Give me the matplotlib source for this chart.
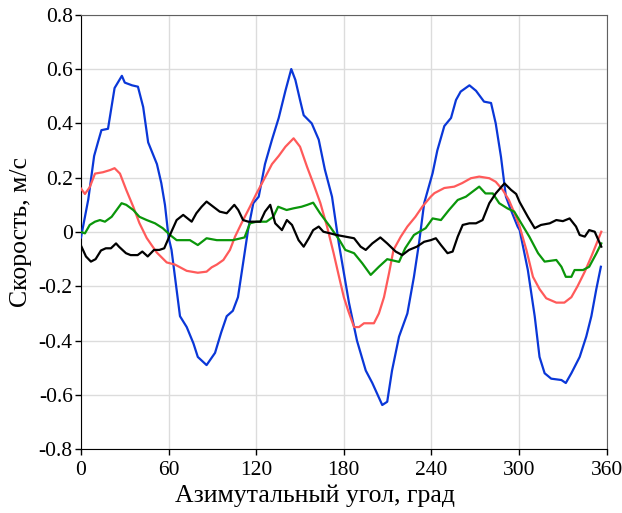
import matplotlib.pyplot as plt

plt.rcParams['font.family'] = ['Liberation Serif', 'DejaVu Serif']

# azimuth angle, deg / velocity, m/s
blue_x = [0, 5, 9, 11.6, 14, 18.5, 23, 28, 30, 35, 39, 42.6, 46, 52, 55, 57.5,
          60, 62, 67.8, 72.4, 77, 80, 86, 91.8, 96, 99.8, 104, 107.5, 111, 114.4,
          118, 121.7, 126, 130.8, 135.4, 140, 144, 146.8, 150, 152.5, 158, 162.8,
          167, 171.9, 176.5, 180, 183.5, 189, 195, 199.5, 206.3, 209.7, 213,
          217.8, 223.5, 228, 231.5, 235, 240.8, 244, 248.8, 253.4, 256.8, 260,
          266, 270.5, 276, 280.8, 284, 287.6, 291, 294.5, 299, 300.4, 306, 310.7,
          314, 317.5, 322, 329, 332, 335.8, 341.5, 346, 349.5, 352.9, 356]
blue_y = [-0.02, 0.12, 0.28, 0.33, 0.375, 0.38, 0.53, 0.575, 0.55, 0.54, 0.535,
          0.46, 0.33, 0.25, 0.18, 0.1, -0.02, -0.066, -0.31, -0.35, -0.41, -0.46,
          -0.49, -0.445, -0.37, -0.31, -0.29, -0.24, -0.115, 0.007, 0.106, 0.13,
          0.25, 0.34, 0.42, 0.52, 0.6, 0.56, 0.486, 0.43, 0.40, 0.34, 0.23, 0.13,
          -0.04, -0.15, -0.26, -0.40, -0.51, -0.556, -0.637, -0.625, -0.51,
          -0.385, -0.30, -0.165, -0.04, 0.106, 0.217, 0.30, 0.39, 0.42, 0.486,
          0.517, 0.54, 0.52, 0.48, 0.475, 0.40, 0.277, 0.13, 0.08, 0.02, 0.007,
          -0.14, -0.31, -0.46, -0.52, -0.54, -0.545, -0.556, -0.52, -0.46, -0.385,
          -0.31, -0.21, -0.128]

red_x = [0, 2.7, 6, 9.6, 15, 19.9, 23, 26.7, 31, 35.8, 40, 45, 51.8, 58.7, 64.4,
         72.4, 80, 86, 89.5, 93, 97.5, 102, 105.5, 110, 115.7, 120.3, 124, 130.8,
         135.4, 140, 145.6, 150, 154.8, 159, 163.9, 168.5, 173, 176.5, 180, 183,
         187, 190.4, 193.8, 200.6, 204, 207.5, 211, 214, 219, 223.5, 229, 233.7,
         239.5, 242, 248.8, 255.6, 261, 267, 272.7, 279.6, 284, 288.8, 293, 296,
         300.4, 305, 309.5, 314, 318.6, 325.5, 331, 335.8, 340, 345, 349.5, 354,
         356.3]
red_y = [0.16, 0.14, 0.165, 0.215, 0.22, 0.228, 0.235, 0.215, 0.155, 0.093, 0.033,
         -0.022, -0.075, -0.112, -0.12, -0.143, -0.15, -0.146, -0.13, -0.12,
         -0.103, -0.066, -0.017, 0.033, 0.093, 0.143, 0.18, 0.25, 0.28, 0.314,
         0.345, 0.314, 0.24, 0.18, 0.107, 0.02, -0.078, -0.16, -0.24, -0.29, -0.35,
         -0.35, -0.336, -0.336, -0.30, -0.24, -0.15, -0.066, -0.017, 0.02, 0.056,
         0.093, 0.13, 0.143, 0.162, 0.167, 0.18, 0.198, 0.204, 0.198, 0.185,
         0.155, 0.118, 0.08, 0.02, -0.066, -0.165, -0.21, -0.244, -0.26, -0.26,
         -0.24, -0.2, -0.146, -0.09, -0.03, 0.001]

green_x = [0, 2.7, 6, 9.6, 13, 16.4, 21, 24.4, 27.8, 31, 35.8, 40, 45, 50.7, 56,
           61, 65.5, 70, 74.6, 80, 86, 93, 99.8, 104, 112, 115.7, 120.3, 127,
           131.7, 135, 140.8, 145.4, 151, 155, 159, 163.7, 170.5, 177, 181, 187,
           192.6, 198.4, 204, 209.7, 217.8, 222, 228, 233.7, 236, 240.8, 246.5,
           252, 258, 263.6, 268, 272.7, 277, 282, 286.4, 292, 296.7, 301.5, 307,
           313, 317.5, 325.5, 329, 332, 335.8, 338, 343.8, 348, 353, 356.3]
green_y = [0.0, -0.005, 0.026, 0.038, 0.044, 0.038, 0.056, 0.081, 0.106, 0.10,
           0.081, 0.056, 0.044, 0.032, 0.014, -0.011, -0.03, -0.03, -0.03, -0.048,
           -0.023, -0.03, -0.03, -0.03, -0.02, 0.032, 0.038, 0.038, 0.056, 0.093,
           0.081, 0.087, 0.093, 0.1, 0.108, 0.069, 0.02, -0.03, -0.066, -0.078,
           -0.115, -0.158, -0.128, -0.1, -0.11, -0.06, -0.011, 0.007, 0.014, 0.05,
           0.044, 0.081, 0.118, 0.13, 0.148, 0.167, 0.142, 0.142, 0.106, 0.087,
           0.075, 0.032, -0.017, -0.078, -0.109, -0.103, -0.128, -0.165, -0.165,
           -0.14, -0.14, -0.128, -0.078, -0.042]

black_x = [0, 3.4, 6.8, 10, 13.7, 17, 20.5, 24, 26, 30.8, 34, 38.8, 42, 45.7, 50,
           53.6, 57, 61, 65.5, 70, 75.8, 79, 82.6, 86, 90.6, 95, 99.8, 105, 107.7,
           111, 114.6, 120.3, 122.8, 126, 129.6, 133, 137.6, 141, 144.5, 149,
           152.5, 156, 159, 162.8, 166, 170.7, 175, 181, 187, 191.5, 195, 199.5,
           205, 209.7, 215.5, 220, 224.6, 230, 235, 239.5, 243, 246.5, 251, 254.5,
           258, 261.4, 266, 270.5, 275, 279.6, 284, 290, 294.5, 298, 300.4, 306,
           310.7, 315, 321, 325.5, 330, 334.6, 339, 341.5, 345, 348, 351.8, 356.3]
black_y = [-0.05, -0.09, -0.109, -0.1, -0.068, -0.06, -0.06, -0.042, -0.054,
           -0.078, -0.085, -0.085, -0.072, -0.09, -0.066, -0.066, -0.06, -0.01,
           0.044, 0.063, 0.038, 0.069, 0.093, 0.112, 0.093, 0.075, 0.069, 0.10,
           0.081, 0.044, 0.038, 0.038, 0.038, 0.075, 0.10, 0.032, 0.007, 0.044,
           0.026, -0.03, -0.054, -0.023, 0.007, 0.02, 0.001, -0.005, -0.011,
           -0.017, -0.023, -0.054, -0.066, -0.042, -0.02, -0.042, -0.072, -0.085,
           -0.066, -0.054, -0.036, -0.03, -0.023, -0.048, -0.078, -0.072, -0.017,
           0.026, 0.032, 0.032, 0.044, 0.106, 0.142, 0.179, 0.155, 0.14, 0.11,
           0.056, 0.014, 0.026, 0.032, 0.044, 0.04, 0.05, 0.02, -0.011, -0.017,
           0.007, 0.001, -0.054]

x_ticks = [0, 60, 120, 180, 240, 300, 360]
y_ticks = [-0.8, -0.6, -0.4, -0.2, 0, 0.2, 0.4, 0.6, 0.8]
y_tick_labels = ['-0.8', '-0.6', '-0.4', '-0.2', '0', '0.2', '0.4', '0.6', '0.8']

fig = plt.figure(figsize=(6.22, 5.13), dpi=100)
ax = fig.add_axes([0.1302, 0.1242, 0.8452, 0.8471])

ax.plot(blue_x, blue_y, color='#0a37d8', lw=1.6, zorder=3)
ax.plot(red_x, red_y, color='#ff5a5a', lw=1.6, zorder=3)
ax.plot(green_x, green_y, color='#0a960a', lw=1.6, zorder=3)
ax.plot(black_x, black_y, color='black', lw=1.6, zorder=3)

ax.set_xlim(0, 360)
ax.set_ylim(-0.8, 0.8)
ax.set_xticks(x_ticks)
ax.set_yticks(y_ticks)
ax.set_yticklabels(y_tick_labels)
ax.grid(True, color='#dcdcdc', lw=1.0)
ax.set_axisbelow(True)

ax.tick_params(axis='both', labelsize=15.5, length=4.5, width=1, direction='out',
               top=False, right=False)
ax.tick_params(axis='x', pad=4)
ax.tick_params(axis='y', pad=1.5)
for side in ['top', 'right']:
    ax.spines[side].set_color('#606060')
for side in ['left', 'bottom']:
    ax.spines[side].set_color('black')

ax.set_xlabel('Азимутальный угол, град', fontsize=18.5)
ax.set_ylabel('Скорость, м/с', fontsize=18.5)
ax.xaxis.set_label_coords(0.445, -0.08)
ax.yaxis.set_label_coords(-0.093, 0.5)

fig.savefig('out.png', dpi=100)
